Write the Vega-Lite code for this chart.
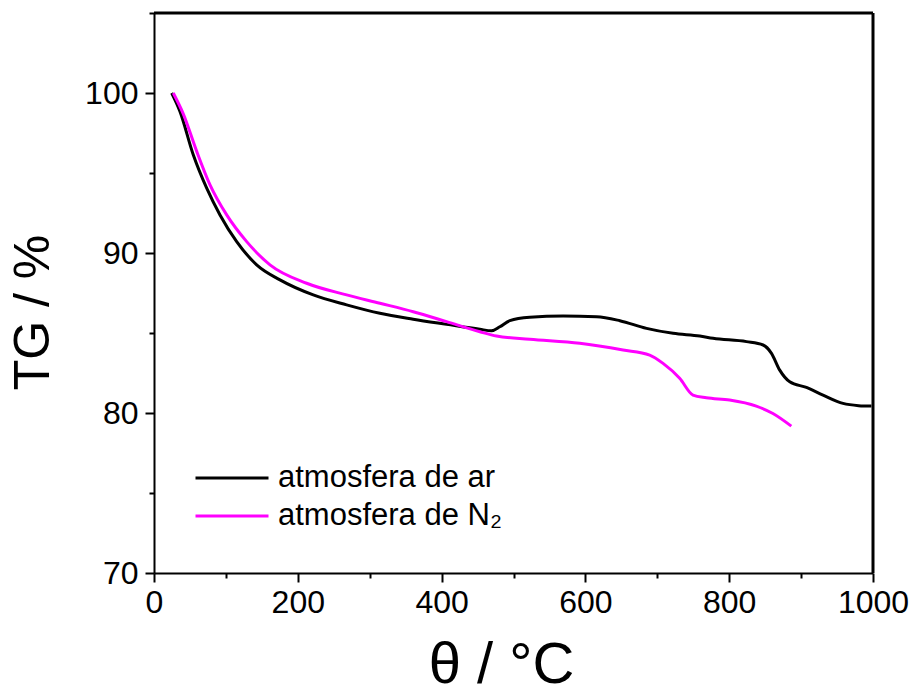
{
  "$schema": "https://vega.github.io/schema/vega-lite/v6.json",
  "width": 719,
  "height": 560,
  "autosize": {"type": "none"},
  "padding": {"left": 154, "top": 13, "right": 39, "bottom": 115},
  "background": "white",
  "config": {
    "view": {"stroke": null},
    "font": "Liberation Sans"
  },
  "data": {
    "values": [
      {"s": "atmosfera de ar", "t": 24.6, "tg": 100.0},
      {"s": "atmosfera de ar", "t": 36.1, "tg": 98.85},
      {"s": "atmosfera de ar", "t": 54.6, "tg": 96.14},
      {"s": "atmosfera de ar", "t": 73.3, "tg": 94.05},
      {"s": "atmosfera de ar", "t": 91.8, "tg": 92.38},
      {"s": "atmosfera de ar", "t": 115.0, "tg": 90.71},
      {"s": "atmosfera de ar", "t": 142.8, "tg": 89.26},
      {"s": "atmosfera de ar", "t": 175.2, "tg": 88.32},
      {"s": "atmosfera de ar", "t": 221.5, "tg": 87.38},
      {"s": "atmosfera de ar", "t": 267.9, "tg": 86.76},
      {"s": "atmosfera de ar", "t": 314.2, "tg": 86.23},
      {"s": "atmosfera de ar", "t": 360.5, "tg": 85.86},
      {"s": "atmosfera de ar", "t": 406.9, "tg": 85.54},
      {"s": "atmosfera de ar", "t": 453.2, "tg": 85.23},
      {"s": "atmosfera de ar", "t": 469.5, "tg": 85.14},
      {"s": "atmosfera de ar", "t": 481.0, "tg": 85.39},
      {"s": "atmosfera de ar", "t": 494.9, "tg": 85.77},
      {"s": "atmosfera de ar", "t": 522.7, "tg": 85.98},
      {"s": "atmosfera de ar", "t": 569.1, "tg": 86.06},
      {"s": "atmosfera de ar", "t": 615.5, "tg": 86.02},
      {"s": "atmosfera de ar", "t": 647.9, "tg": 85.77},
      {"s": "atmosfera de ar", "t": 685.0, "tg": 85.29},
      {"s": "atmosfera de ar", "t": 722.0, "tg": 84.98},
      {"s": "atmosfera de ar", "t": 759.1, "tg": 84.81},
      {"s": "atmosfera de ar", "t": 777.6, "tg": 84.67},
      {"s": "atmosfera de ar", "t": 824.0, "tg": 84.46},
      {"s": "atmosfera de ar", "t": 847.1, "tg": 84.25},
      {"s": "atmosfera de ar", "t": 858.8, "tg": 83.73},
      {"s": "atmosfera de ar", "t": 870.3, "tg": 82.68},
      {"s": "atmosfera de ar", "t": 884.2, "tg": 81.95},
      {"s": "atmosfera de ar", "t": 907.4, "tg": 81.6},
      {"s": "atmosfera de ar", "t": 930.5, "tg": 81.12},
      {"s": "atmosfera de ar", "t": 958.3, "tg": 80.6},
      {"s": "atmosfera de ar", "t": 980.0, "tg": 80.46},
      {"s": "atmosfera de ar", "t": 997.8, "tg": 80.43},
      {"s": "atmosfera de N₂", "t": 26.8, "tg": 100.0},
      {"s": "atmosfera de N₂", "t": 40.7, "tg": 98.7},
      {"s": "atmosfera de N₂", "t": 59.4, "tg": 96.35},
      {"s": "atmosfera de N₂", "t": 77.9, "tg": 94.26},
      {"s": "atmosfera de N₂", "t": 101.1, "tg": 92.38},
      {"s": "atmosfera de N₂", "t": 128.9, "tg": 90.71},
      {"s": "atmosfera de N₂", "t": 161.3, "tg": 89.26},
      {"s": "atmosfera de N₂", "t": 212.3, "tg": 88.11},
      {"s": "atmosfera de N₂", "t": 267.9, "tg": 87.38},
      {"s": "atmosfera de N₂", "t": 314.2, "tg": 86.86},
      {"s": "atmosfera de N₂", "t": 360.5, "tg": 86.33},
      {"s": "atmosfera de N₂", "t": 406.9, "tg": 85.71},
      {"s": "atmosfera de N₂", "t": 453.2, "tg": 85.08},
      {"s": "atmosfera de N₂", "t": 476.4, "tg": 84.81},
      {"s": "atmosfera de N₂", "t": 522.7, "tg": 84.61},
      {"s": "atmosfera de N₂", "t": 592.2, "tg": 84.36},
      {"s": "atmosfera de N₂", "t": 652.4, "tg": 83.94},
      {"s": "atmosfera de N₂", "t": 689.4, "tg": 83.62},
      {"s": "atmosfera de N₂", "t": 708.0, "tg": 83.1},
      {"s": "atmosfera de N₂", "t": 731.1, "tg": 82.17},
      {"s": "atmosfera de N₂", "t": 749.6, "tg": 81.12},
      {"s": "atmosfera de N₂", "t": 768.2, "tg": 80.95},
      {"s": "atmosfera de N₂", "t": 800.6, "tg": 80.81},
      {"s": "atmosfera de N₂", "t": 837.7, "tg": 80.43},
      {"s": "atmosfera de N₂", "t": 860.8, "tg": 79.97},
      {"s": "atmosfera de N₂", "t": 886.4, "tg": 79.18}
    ]
  },
  "layer": [
    {
      "transform": [{"filter": "datum.s === 'atmosfera de ar'"}],
      "mark": {"type": "line", "strokeWidth": 3, "interpolate": "monotone"},
      "encoding": {
        "x": {
          "field": "t",
          "type": "quantitative",
          "scale": {"domain": [0, 1000], "nice": false},
          "axis": {
            "orient": "bottom",
            "values": [0, 100, 200, 300, 400, 500, 600, 700, 800, 900, 1000],
            "format": "d",
            "labelExpr": "datum.value % 200 === 0 ? datum.label : ''",
            "grid": false,
            "domain": true,
            "domainColor": "#000000",
            "domainWidth": 2,
            "tickColor": "#000000",
            "tickWidth": 2,
            "tickSize": {"condition": {"test": "datum.value % 200 === 0", "value": 9}, "value": 5},
            "labelFont": "Liberation Sans",
            "labelFontSize": 32,
            "labelColor": "#000000",
            "labelPadding": 5,
            "labelFlush": false,
            "title": "θ / °C",
            "titleFont": "Liberation Sans",
            "titleFontSize": 58,
            "titleFontWeight": "normal",
            "titleColor": "#000000",
            "titleX": 347,
            "titleY": 109,
            "titleAlign": "center",
            "titleBaseline": "alphabetic"
          }
        },
        "y": {
          "field": "tg",
          "type": "quantitative",
          "scale": {"domain": [70, 105], "nice": false, "zero": false},
          "axis": {
            "orient": "left",
            "values": [70, 75, 80, 85, 90, 95, 100, 105],
            "format": "d",
            "labelExpr": "datum.value % 10 === 0 && datum.value <= 100 ? datum.label : ''",
            "grid": false,
            "domain": true,
            "domainColor": "#000000",
            "domainWidth": 2,
            "tickColor": "#000000",
            "tickWidth": 2,
            "tickSize": {"condition": {"test": "datum.value % 10 === 0 && datum.value <= 100", "value": 9}, "value": 5},
            "labelFont": "Liberation Sans",
            "labelFontSize": 32,
            "labelColor": "#000000",
            "labelPadding": 7,
            "labelFlush": false,
            "title": "TG / %",
            "titleFont": "Liberation Sans",
            "titleFontSize": 50,
            "titleFontWeight": "normal",
            "titleColor": "#000000",
            "titleAngle": -90,
            "titleX": -121,
            "titleY": 299,
            "titleAlign": "center",
            "titleBaseline": "middle"
          }
        },
        "color": {
          "field": "s",
          "type": "nominal",
          "scale": {"domain": ["atmosfera de ar", "atmosfera de N₂"], "range": ["#000000", "#ff00ff"]},
          "legend": {
            "title": null,
            "orient": "none",
            "legendX": 40,
            "legendY": 446,
            "symbolType": "stroke",
            "symbolSize": 5329,
            "symbolStrokeWidth": 3,
            "clipHeight": 38,
            "labelFont": "Liberation Sans",
            "labelFontSize": 31,
            "labelColor": "#000000",
            "labelOffset": 8,
            "rowPadding": 0,
            "labelLimit": 500
          }
        }
      }
    },
    {
      "transform": [{"filter": "datum.s === 'atmosfera de N₂'"}],
      "mark": {"type": "line", "strokeWidth": 3, "interpolate": "monotone"},
      "encoding": {
        "x": {"field": "t", "type": "quantitative"},
        "y": {"field": "tg", "type": "quantitative"},
        "color": {"field": "s", "type": "nominal"}
      }
    },
    {
      "data": {"values": [{"edge": "top"}]},
      "mark": {"type": "rule", "stroke": "#000000", "strokeWidth": 3},
      "encoding": {
        "x": {"datum": 0, "type": "quantitative"},
        "x2": {"datum": 1000},
        "y": {"datum": 105, "type": "quantitative"},
        "y2": {"datum": 105}
      }
    },
    {
      "data": {"values": [{"edge": "right"}]},
      "mark": {"type": "rule", "stroke": "#000000", "strokeWidth": 3},
      "encoding": {
        "x": {"datum": 1000, "type": "quantitative"},
        "x2": {"datum": 1000},
        "y": {"datum": 70, "type": "quantitative"},
        "y2": {"datum": 105}
      }
    }
  ]
}
